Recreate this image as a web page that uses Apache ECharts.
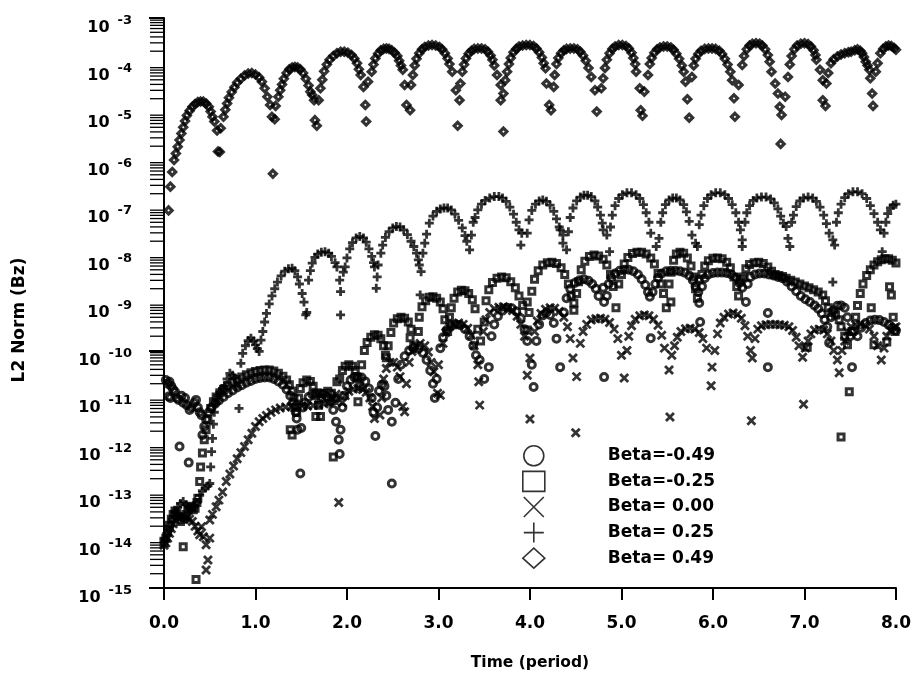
<!DOCTYPE html>
<html><head><meta charset="utf-8">
<script src="https://cdn.jsdelivr.net/npm/echarts@6/dist/echarts.min.js"></script>
<style>html,body{margin:0;padding:0;background:#fff}#c{width:914px;height:677px}</style>
</head><body><div id="c"></div>
<script>
// x ticks (period) and y decades (exponents of 10)
const xTickValues = [0, 1, 2, 3, 4, 5, 6, 7, 8];
const yExponents = [-15, -14, -13, -12, -11, -10, -9, -8, -7, -6, -5, -4, -3];
const minorMultipliers = [2, 3, 4, 5, 6, 7, 8, 9];
const legendNames = ['Beta=-0.49', 'Beta=-0.25', 'Beta= 0.00', 'Beta= 0.25', 'Beta= 0.49'];

// each point: [time (period), log10 of L2 norm]
const circleData = [
[0.02,-10.62],[0.04,-10.7],[0.05,-10.97],[0.06,-10.66],[0.07,-11.0],[0.08,-10.75],[0.10,-10.82],[0.12,-10.87],[0.14,-11.0],[0.16,-11.04],[0.17,-12.02],[0.19,-10.95],[0.21,-11.1],[0.23,-11.0],[0.25,-11.15],[0.27,-12.36],[0.28,-11.25],[0.30,-11.2],[0.33,-11.1],[0.35,-11.04],[0.37,-11.2],[0.39,-11.3],[0.41,-11.36],[0.42,-11.78],[0.44,-11.6],[0.46,-11.45],[0.49,-11.3],[0.52,-11.2],
[0.56,-11.12],[0.60,-11.05],[0.65,-10.98],[0.70,-10.9],[0.75,-10.84],[0.80,-10.78],[0.85,-10.73],[0.90,-10.68],[0.95,-10.64],[1.00,-10.6],[1.05,-10.58],[1.10,-10.57],[1.15,-10.57],[1.20,-10.6],[1.25,-10.65],[1.30,-10.72],[1.34,-10.82],[1.38,-10.95],[1.41,-11.1],[1.44,-11.3],[1.45,-11.43],[1.46,-11.67],[1.49,-12.59],[1.50,-11.63],[1.52,-11.2],
[1.54,-11.1],[1.58,-10.98],[1.62,-10.92],[1.66,-10.9],[1.70,-10.9],[1.74,-10.92],[1.78,-10.98],[1.82,-11.08],[1.85,-11.25],[1.88,-11.5],[1.91,-11.88],[1.92,-12.18],[1.93,-11.67],[1.95,-11.2],
[1.97,-10.95],[2.00,-10.75],[2.04,-10.62],[2.08,-10.56],[2.12,-10.55],[2.16,-10.57],[2.20,-10.65],[2.24,-10.8],[2.27,-11.0],[2.29,-11.3],[2.31,-11.8],[2.33,-11.2],
[2.35,-10.85],[2.38,-10.72],[2.41,-10.75],[2.43,-10.95],[2.45,-11.25],[2.49,-11.5],[2.49,-12.8],[2.53,-11.1],[2.56,-10.6],[2.59,-10.3],[2.63,-10.12],[2.68,-10.0],[2.73,-9.95],[2.78,-9.97],[2.83,-10.05],[2.87,-10.2],[2.91,-10.42],[2.94,-10.7],[2.96,-11.0],[2.98,-10.6],
[3.02,-9.95],[3.05,-9.72],[3.09,-9.57],[3.14,-9.48],[3.19,-9.45],[3.24,-9.47],[3.29,-9.55],[3.34,-9.7],[3.38,-9.9],[3.41,-10.1],[3.45,-10.2],[3.50,-10.6],[3.55,-10.35],
[3.58,-9.7],[3.61,-9.45],[3.65,-9.28],[3.70,-9.16],[3.75,-9.1],[3.80,-9.11],[3.85,-9.18],[3.90,-9.32],[3.94,-9.55],[3.97,-9.8],[4.02,-10.3],[4.04,-10.77],
[4.07,-9.8],[4.10,-9.45],[4.14,-9.26],[4.18,-9.2],[4.22,-9.25],[4.26,-9.42],[4.29,-9.75],[4.33,-10.35],
[4.37,-9.2],[4.40,-8.9],[4.44,-8.7],[4.49,-8.58],[4.54,-8.52],[4.59,-8.5],[4.64,-8.53],[4.68,-8.6],[4.72,-8.7],[4.75,-8.85],[4.80,-8.68],[4.81,-8.98],[4.81,-10.56],[4.84,-8.85],
[4.86,-8.6],[4.89,-8.47],[4.93,-8.38],[4.98,-8.32],[5.03,-8.3],[5.08,-8.3],[5.13,-8.33],[5.18,-8.4],[5.22,-8.5],[5.26,-8.62],[5.29,-8.77],[5.31,-8.87],[5.32,-9.74],[5.34,-8.77],
[5.37,-8.6],[5.40,-8.47],[5.44,-8.38],[5.49,-8.33],[5.54,-8.32],[5.59,-8.32],[5.64,-8.33],[5.69,-8.36],[5.74,-8.42],[5.78,-8.52],[5.81,-8.65],[5.84,-8.77],[5.85,-9.0],[5.86,-9.4],[5.88,-8.65],
[5.91,-8.48],[5.95,-8.4],[6.00,-8.37],[6.05,-8.36],[6.10,-8.36],[6.15,-8.37],[6.20,-8.4],[6.25,-8.47],[6.29,-8.58],[6.32,-8.68],[6.36,-8.98],[6.38,-8.6],
[6.41,-8.45],[6.46,-8.4],[6.51,-8.38],[6.56,-8.38],[6.60,-9.21],[6.60,-10.35],[6.61,-8.4],[6.66,-8.42],[6.71,-8.45],[6.76,-8.48],[6.81,-8.55],[6.86,-8.65],[6.91,-8.75],[6.96,-8.85],[7.01,-8.92],[7.06,-8.98],[7.11,-9.05],[7.15,-9.12],[7.19,-9.22],[7.22,-9.35],[7.25,-9.5],[7.27,-9.84],[7.29,-9.3],
[7.32,-9.15],[7.36,-9.06],[7.40,-9.05],[7.44,-9.1],[7.47,-9.3],[7.50,-9.7],[7.52,-10.35],[7.54,-9.6],
[7.58,-9.7],[7.62,-9.52],[7.67,-9.42],[7.72,-9.37],[7.77,-9.35],[7.82,-9.36],[7.87,-9.4],[7.92,-9.46],[7.96,-9.52],[8.00,-9.58]
];

const squareData = [
[0.00,-14.05],[0.02,-13.95],[0.04,-13.82],[0.06,-13.68],[0.08,-13.55],[0.10,-13.45],[0.12,-13.38],[0.14,-13.42],[0.16,-13.5],[0.18,-13.6],[0.21,-14.13],[0.22,-13.55],[0.24,-13.45],[0.26,-13.35],[0.28,-13.28],[0.30,-13.3],[0.32,-13.35],[0.34,-13.32],[0.35,-14.82],[0.36,-13.2],[0.37,-13.11],[0.39,-12.76],[0.40,-12.45],[0.42,-12.16],[0.44,-11.88],[0.46,-11.67],[0.48,-11.45],[0.51,-11.22],[0.54,-11.08],[0.57,-10.98],[0.61,-10.89],[0.65,-10.82],[0.70,-10.74],[0.75,-10.67],[0.80,-10.61],[0.85,-10.56],[0.90,-10.51],[0.95,-10.47],[1.00,-10.44],[1.05,-10.42],[1.10,-10.41],[1.15,-10.41],[1.20,-10.43],[1.25,-10.48],[1.30,-10.54],[1.34,-10.62],[1.37,-10.72],[1.38,-11.67],[1.40,-10.85],[1.40,-11.78],[1.42,-11.0],[1.43,-11.2],[1.45,-11.3],
[1.47,-11.0],[1.49,-10.8],[1.52,-10.68],[1.56,-10.62],[1.60,-10.65],[1.63,-10.75],[1.66,-10.95],[1.66,-11.39],[1.69,-11.15],[1.71,-11.39],
[1.72,-11.0],[1.75,-10.9],[1.79,-10.86],[1.83,-10.9],[1.85,-12.24],[1.86,-11.05],[1.88,-11.0],[1.89,-10.66],
[1.92,-10.6],[1.95,-10.42],[1.98,-10.33],[2.02,-10.3],[2.06,-10.33],[2.09,-10.42],[2.11,-10.58],[2.12,-11.08],[2.14,-10.75],
[2.16,-10.3],[2.19,-10.0],[2.22,-9.83],[2.26,-9.72],[2.30,-9.67],[2.34,-9.68],[2.37,-9.75],[2.40,-9.9],[2.42,-10.1],[2.43,-10.15],[2.45,-9.9],
[2.48,-9.62],[2.51,-9.42],[2.55,-9.33],[2.59,-9.3],[2.63,-9.32],[2.67,-9.4],[2.70,-9.55],[2.69,-9.73],[2.73,-9.9],[2.78,-9.6],
[2.79,-9.3],[2.82,-9.08],[2.86,-8.95],[2.90,-8.88],[2.94,-8.87],[2.98,-8.9],[3.02,-8.98],[3.05,-9.12],[3.07,-9.35],[3.10,-9.6],[3.12,-9.3],
[3.14,-9.1],[3.17,-8.9],[3.21,-8.77],[3.25,-8.73],[3.29,-8.74],[3.33,-8.8],[3.37,-8.93],[3.40,-9.12],[3.43,-9.55],[3.46,-9.8],[3.50,-9.4],
[3.52,-8.95],[3.55,-8.72],[3.59,-8.57],[3.64,-8.48],[3.69,-8.45],[3.74,-8.47],[3.79,-8.55],[3.84,-8.68],[3.88,-8.85],[3.92,-9.05],[3.97,-8.98],[3.97,-9.57],[3.99,-9.2],
[4.02,-8.75],[4.05,-8.5],[4.09,-8.32],[4.14,-8.2],[4.19,-8.15],[4.24,-8.14],[4.29,-8.17],[4.34,-8.26],[4.38,-8.4],[4.42,-8.6],[4.45,-8.85],[4.48,-9.0],[4.48,-9.15],[4.51,-8.8],
[4.53,-8.55],[4.56,-8.3],[4.60,-8.12],[4.65,-8.02],[4.70,-7.99],[4.75,-8.01],[4.80,-8.08],[4.84,-8.2],[4.88,-8.4],[4.91,-8.65],[4.94,-9.1],[4.97,-8.6],
[5.00,-8.4],[5.03,-8.18],[5.07,-8.04],[5.12,-7.96],[5.17,-7.93],[5.22,-7.93],[5.27,-7.97],[5.32,-8.05],[5.36,-8.18],[5.40,-8.38],[5.43,-8.6],[5.46,-8.8],[5.49,-9.1],[5.52,-8.6],[5.54,-8.98],
[5.54,-8.35],[5.57,-8.1],[5.60,-7.97],[5.64,-7.93],[5.68,-7.95],[5.72,-8.05],[5.76,-8.22],[5.79,-8.45],[5.81,-8.7],[5.83,-8.9],[5.85,-8.5],
[5.88,-8.4],[5.91,-8.22],[5.95,-8.11],[6.00,-8.06],[6.05,-8.05],[6.10,-8.07],[6.15,-8.14],[6.19,-8.26],[6.23,-8.45],[6.26,-8.65],[6.28,-8.85],[6.30,-8.5],
[6.33,-8.45],[6.36,-8.28],[6.40,-8.19],[6.45,-8.15],[6.50,-8.14],[6.55,-8.17],[6.60,-8.24],[6.64,-8.33],[6.68,-8.4],
[6.72,-8.42],[6.76,-8.44],[6.80,-8.48],[6.85,-8.52],[6.90,-8.56],[6.95,-8.6],[7.00,-8.64],[7.03,-9.93],[7.05,-8.68],[7.10,-8.72],[7.15,-8.77],[7.20,-8.83],
[7.23,-8.95],[7.26,-9.1],[7.30,-9.2],[7.34,-9.25],[7.38,-9.35],[7.40,-9.5],[7.40,-11.82],[7.44,-9.7],[7.47,-9.88],[7.49,-10.87],[7.52,-9.6],
[7.56,-9.3],[7.58,-9.05],[7.61,-8.8],[7.64,-8.6],[7.68,-8.42],[7.72,-8.3],[7.73,-9.1],[7.76,-8.2],[7.76,-9.88],[7.80,-8.13],[7.84,-8.09],[7.88,-8.07],[7.90,-9.82],[7.92,-8.07],[7.93,-8.66],[7.95,-8.83],[7.96,-8.1],[7.97,-9.3],[7.99,-9.6],[8.00,-8.16]
];

const crossData = [
[0.00,-14.1],[0.02,-14.05],[0.04,-13.95],[0.06,-13.85],[0.08,-13.75],[0.10,-13.65],[0.13,-13.57],[0.16,-13.52],[0.19,-13.5],[0.22,-13.5],[0.25,-13.52],[0.28,-13.55],[0.31,-13.6],[0.34,-13.7],[0.37,-13.8],[0.39,-13.88],[0.41,-13.71],[0.43,-13.92],[0.46,-14.09],[0.46,-14.62],[0.48,-14.41],[0.50,-13.95],
[0.50,-13.57],[0.53,-13.45],[0.57,-13.29],[0.60,-13.15],[0.64,-12.98],[0.68,-12.76],[0.72,-12.6],[0.76,-12.43],[0.80,-12.28],[0.84,-12.15],[0.88,-12.02],[0.92,-11.88],[0.96,-11.74],[1.00,-11.6],[1.04,-11.5],[1.08,-11.43],[1.12,-11.37],[1.17,-11.3],[1.22,-11.25],[1.27,-11.21],[1.33,-11.19],[1.39,-11.18],[1.45,-11.18],[1.51,-11.17],[1.57,-11.17],[1.63,-11.16],[1.69,-11.14],[1.75,-11.12],[1.80,-11.1],[1.84,-11.0],[1.88,-10.92],[1.91,-13.2],
[1.95,-11.1],[1.98,-10.95],[2.02,-10.86],[2.07,-10.81],[2.12,-10.8],[2.17,-10.82],[2.21,-10.88],[2.25,-11.0],[2.28,-11.18],[2.30,-11.43],[2.36,-11.36],[2.38,-11.0],
[2.40,-10.6],[2.43,-10.38],[2.47,-10.25],[2.51,-10.25],[2.55,-10.35],[2.58,-10.55],[2.61,-11.18],[2.63,-11.29],[2.65,-10.7],
[2.68,-10.25],[2.71,-10.02],[2.75,-9.9],[2.80,-9.85],[2.85,-9.9],[2.89,-10.03],[2.92,-10.25],[2.95,-10.45],[2.99,-10.9],[3.02,-10.94],[3.00,-10.3],
[3.05,-9.85],[3.08,-9.62],[3.12,-9.5],[3.17,-9.44],[3.22,-9.42],[3.27,-9.45],[3.32,-9.53],[3.36,-9.68],[3.39,-9.9],[3.43,-10.3],[3.44,-10.66],[3.45,-11.15],
[3.49,-9.6],[3.52,-9.35],[3.56,-9.2],[3.61,-9.12],[3.66,-9.09],[3.71,-9.08],[3.76,-9.1],[3.81,-9.16],[3.86,-9.28],[3.90,-9.45],[3.94,-9.7],[3.97,-10.52],[4.00,-10.16],[4.00,-11.44],
[4.05,-9.6],[4.08,-9.38],[4.12,-9.22],[4.17,-9.13],[4.22,-9.1],[4.27,-9.11],[4.32,-9.18],[4.37,-9.3],[4.41,-9.5],[4.44,-9.75],[4.47,-10.16],[4.50,-11.73],[4.51,-10.55],
[4.55,-9.85],[4.58,-9.6],[4.62,-9.45],[4.67,-9.36],[4.72,-9.33],[4.77,-9.32],[4.82,-9.34],[4.87,-9.41],[4.92,-9.55],[4.96,-9.75],[5.00,-10.1],[5.03,-10.58],[5.06,-10.0],
[5.08,-9.7],[5.11,-9.48],[5.15,-9.34],[5.20,-9.27],[5.25,-9.25],[5.30,-9.27],[5.35,-9.34],[5.40,-9.47],[5.44,-9.68],[5.47,-9.95],[5.52,-10.41],[5.53,-11.4],[5.55,-10.1],
[5.58,-9.9],[5.61,-9.72],[5.65,-9.6],[5.70,-9.54],[5.75,-9.53],[5.80,-9.55],[5.85,-9.62],[5.89,-9.75],[5.93,-9.95],[5.98,-10.74],[5.99,-10.35],[6.02,-10.0],
[6.05,-9.65],[6.08,-9.42],[6.12,-9.3],[6.17,-9.23],[6.22,-9.21],[6.27,-9.24],[6.31,-9.32],[6.35,-9.48],[6.38,-9.7],[6.41,-10.0],[6.42,-11.48],[6.43,-10.16],[6.46,-9.75],
[6.49,-9.55],[6.53,-9.48],[6.58,-9.46],[6.63,-9.45],[6.68,-9.45],[6.73,-9.46],[6.78,-9.47],[6.83,-9.5],[6.87,-9.58],[6.91,-9.72],[6.94,-9.9],[6.98,-10.14],[6.99,-11.13],[7.01,-9.95],
[7.04,-9.8],[7.07,-9.65],[7.11,-9.57],[7.16,-9.55],[7.21,-9.57],[7.25,-9.65],[7.29,-9.8],[7.32,-10.0],[7.36,-10.2],[7.38,-10.47],[7.41,-10.0],
[7.44,-9.8],[7.47,-9.6],[7.51,-9.5],[7.56,-9.46],[7.61,-9.45],[7.66,-9.47],[7.71,-9.55],[7.76,-9.7],[7.80,-9.9],[7.84,-10.2],[7.87,-9.95],
[7.90,-9.7],[7.94,-9.58],[7.98,-9.52],[8.00,-9.5]
];

const plusData = [
[0.00,-13.95],[0.03,-13.85],[0.06,-13.7],[0.09,-13.55],[0.12,-13.4],[0.15,-13.3],[0.18,-13.22],[0.21,-13.18],[0.24,-13.25],[0.27,-13.3],[0.30,-13.35],[0.33,-13.3],[0.36,-13.2],[0.39,-13.05],[0.42,-12.95],[0.45,-12.9],[0.48,-12.85],[0.50,-12.8],[0.51,-12.45],[0.52,-12.13],[0.53,-11.85],[0.54,-11.55],[0.55,-11.3],[0.57,-11.1],[0.59,-10.95],[0.61,-10.87],[0.64,-10.8],[0.66,-10.74],[0.69,-10.6],[0.72,-10.48],[0.75,-10.52],[0.77,-10.58],[0.79,-10.75],[0.82,-11.22],
[0.84,-10.27],[0.86,-10.06],[0.89,-9.9],[0.92,-9.79],[0.95,-9.74],[0.98,-9.8],[1.00,-9.88],[1.02,-9.96],[1.04,-10.02],[1.06,-9.78],[1.08,-9.6],[1.10,-9.4],[1.12,-9.22],[1.15,-9.02],[1.18,-8.85],[1.21,-8.7],[1.24,-8.56],[1.28,-8.43],[1.32,-8.33],[1.36,-8.28],[1.40,-8.27],[1.43,-8.32],[1.46,-8.45],[1.48,-8.6],[1.51,-8.8],[1.53,-8.98],[1.55,-9.25],[1.56,-9.2],[1.58,-8.52],
[1.60,-8.32],[1.62,-8.16],[1.65,-8.04],[1.68,-7.97],[1.72,-7.93],[1.76,-7.92],[1.80,-7.95],[1.83,-8.02],[1.87,-8.15],[1.89,-8.24],[1.92,-8.52],[1.93,-8.76],[1.93,-9.25],[1.96,-8.35],[1.98,-8.24],
[2.00,-8.05],[2.03,-7.86],[2.06,-7.73],[2.10,-7.63],[2.14,-7.6],[2.18,-7.63],[2.21,-7.72],[2.24,-7.86],[2.27,-8.02],[2.29,-8.15],[2.30,-8.24],[2.32,-8.69],[2.33,-8.45],[2.34,-8.2],
[2.37,-7.95],[2.39,-7.78],[2.42,-7.62],[2.46,-7.5],[2.50,-7.42],[2.54,-7.39],[2.58,-7.4],[2.62,-7.46],[2.66,-7.56],[2.70,-7.7],[2.73,-7.81],[2.76,-7.95],[2.78,-8.09],[2.79,-8.2],[2.81,-8.34],[2.80,-8.83],[2.83,-7.95],[2.85,-7.74],
[2.87,-7.55],[2.90,-7.32],[2.94,-7.17],[2.98,-7.07],[3.02,-7.02],[3.06,-7.0],[3.10,-7.0],[3.14,-7.04],[3.18,-7.13],[3.22,-7.26],[3.26,-7.42],[3.29,-7.58],[3.31,-7.7],[3.34,-7.88],[3.36,-7.57],[3.38,-7.3],
[3.40,-7.2],[3.43,-7.04],[3.47,-6.92],[3.51,-6.84],[3.56,-6.79],[3.61,-6.76],[3.66,-6.76],[3.70,-6.79],[3.74,-6.86],[3.78,-6.98],[3.82,-7.13],[3.85,-7.3],[3.88,-7.46],[3.91,-7.53],[3.90,-7.78],[3.97,-7.53],
[3.99,-7.25],[4.02,-7.05],[4.06,-6.92],[4.10,-6.85],[4.14,-6.83],[4.18,-6.86],[4.22,-6.94],[4.26,-7.07],[4.29,-7.23],[4.32,-7.4],[4.33,-7.46],[4.36,-7.57],[4.36,-7.74],[4.40,-7.88],[4.42,-7.5],
[4.44,-7.2],[4.47,-7.0],[4.51,-6.85],[4.55,-6.77],[4.59,-6.73],[4.63,-6.73],[4.67,-6.76],[4.71,-6.85],[4.74,-6.98],[4.77,-7.15],[4.79,-7.32],[4.80,-7.46],[4.84,-7.57],[4.87,-7.92],[4.88,-7.4],
[4.90,-7.15],[4.93,-6.95],[4.97,-6.8],[5.01,-6.72],[5.06,-6.68],[5.11,-6.68],[5.16,-6.72],[5.20,-6.8],[5.24,-6.93],[5.27,-7.1],[5.30,-7.3],[5.32,-7.53],[5.38,-7.81],[5.41,-7.64],[5.43,-7.3],
[5.45,-7.1],[5.48,-6.93],[5.52,-6.83],[5.56,-6.79],[5.60,-6.79],[5.64,-6.83],[5.68,-6.93],[5.71,-7.08],[5.74,-7.28],[5.77,-7.57],[5.81,-7.74],[5.83,-7.81],[5.85,-7.35],
[5.87,-7.15],[5.90,-6.95],[5.94,-6.8],[5.98,-6.72],[6.03,-6.68],[6.08,-6.68],[6.13,-6.72],[6.17,-6.8],[6.21,-6.93],[6.25,-7.1],[6.28,-7.3],[6.30,-7.46],[6.32,-7.67],[6.32,-7.81],[6.35,-7.3],
[6.37,-7.1],[6.40,-6.95],[6.44,-6.84],[6.48,-6.79],[6.53,-6.77],[6.58,-6.77],[6.63,-6.81],[6.67,-6.89],[6.71,-7.02],[6.74,-7.17],[6.77,-7.32],[6.80,-7.39],[6.82,-7.64],[6.84,-7.81],[6.86,-7.3],
[6.88,-7.15],[6.91,-6.97],[6.95,-6.85],[6.99,-6.79],[7.04,-6.77],[7.09,-6.79],[7.13,-6.86],[7.17,-6.98],[7.21,-7.15],[7.24,-7.33],[7.27,-7.53],[7.31,-7.67],[7.31,-8.56],[7.33,-7.78],[7.35,-7.3],
[7.37,-7.1],[7.40,-6.92],[7.44,-6.78],[7.48,-6.7],[7.53,-6.66],[7.58,-6.66],[7.63,-6.7],[7.68,-6.8],[7.72,-6.95],[7.76,-7.12],[7.80,-7.3],[7.83,-7.46],[7.87,-7.53],[7.85,-7.92],[7.89,-7.3],
[7.91,-7.12],[7.94,-7.0],[7.97,-6.94],[8.00,-6.92]
];

const diamondData = [
[0.05,-7.05],[0.07,-6.55],[0.09,-6.24],[0.11,-5.99],[0.13,-5.85],[0.15,-5.71],[0.17,-5.57],[0.19,-5.43],[0.21,-5.3],[0.23,-5.17],[0.25,-5.05],[0.28,-4.95],[0.31,-4.87],[0.34,-4.81],[0.37,-4.77],[0.40,-4.76],[0.43,-4.76],[0.46,-4.8],[0.49,-4.87],[0.51,-4.97],[0.53,-5.08],
[0.55,-5.18],[0.58,-5.37],[0.59,-5.81],[0.61,-5.82],[0.62,-5.32],[0.65,-5.08],
[0.67,-4.93],[0.69,-4.8],[0.71,-4.68],[0.74,-4.56],[0.77,-4.46],[0.80,-4.36],[0.84,-4.28],[0.88,-4.21],[0.92,-4.17],[0.96,-4.16],[1.00,-4.19],[1.04,-4.25],[1.07,-4.34],[1.10,-4.48],[1.13,-4.66],
[1.16,-4.83],[1.18,-5.08],[1.19,-6.28],[1.21,-5.13],[1.22,-4.85],[1.25,-4.66],
[1.27,-4.52],[1.29,-4.4],[1.31,-4.28],[1.34,-4.16],[1.37,-4.08],[1.40,-4.04],[1.43,-4.03],[1.46,-4.04],[1.49,-4.08],[1.52,-4.16],[1.55,-4.28],[1.58,-4.42],
[1.60,-4.55],[1.62,-4.62],[1.64,-4.73],[1.65,-5.15],[1.67,-5.27],[1.69,-4.73],[1.71,-4.48],
[1.73,-4.3],[1.75,-4.12],[1.78,-3.98],[1.81,-3.88],[1.85,-3.8],[1.89,-3.74],[1.93,-3.71],[1.97,-3.71],[2.01,-3.73],[2.05,-3.78],[2.08,-3.85],[2.11,-3.95],[2.13,-4.08],
[2.15,-4.2],[2.18,-4.45],[2.20,-4.83],[2.21,-5.18],[2.23,-4.34],[2.27,-4.13],
[2.29,-3.98],[2.31,-3.85],[2.34,-3.75],[2.37,-3.68],[2.40,-3.65],[2.43,-3.64],[2.46,-3.65],[2.49,-3.68],[2.52,-3.73],[2.55,-3.8],[2.57,-3.9],[2.59,-4.0],
[2.61,-4.09],[2.63,-4.41],[2.65,-4.83],[2.69,-4.94],[2.70,-4.41],[2.72,-4.2],
[2.74,-4.0],[2.76,-3.86],[2.79,-3.74],[2.82,-3.66],[2.85,-3.61],[2.89,-3.58],[2.93,-3.57],[2.97,-3.58],[3.01,-3.61],[3.04,-3.66],[3.07,-3.74],[3.10,-3.85],[3.12,-3.97],
[3.15,-4.13],[3.19,-4.52],[3.21,-5.27],[3.23,-4.73],[3.24,-4.38],[3.26,-4.13],
[3.28,-3.98],[3.30,-3.85],[3.33,-3.75],[3.36,-3.69],[3.39,-3.65],[3.43,-3.64],[3.47,-3.64],[3.51,-3.66],[3.54,-3.71],[3.57,-3.79],[3.59,-3.88],[3.61,-4.0],
[3.64,-4.2],[3.68,-4.41],[3.68,-4.73],[3.71,-4.59],[3.71,-5.39],[3.73,-4.31],[3.75,-4.13],
[3.77,-3.97],[3.79,-3.84],[3.82,-3.72],[3.85,-3.65],[3.88,-3.6],[3.92,-3.58],[3.96,-3.57],[4.00,-3.57],[4.04,-3.59],[4.07,-3.64],[4.10,-3.72],[4.13,-3.83],[4.15,-3.95],
[4.17,-4.06],[4.18,-4.38],[4.21,-4.83],[4.23,-4.94],[4.26,-4.45],[4.27,-4.2],
[4.29,-3.97],[4.31,-3.84],[4.34,-3.74],[4.37,-3.68],[4.40,-3.65],[4.44,-3.64],[4.48,-3.64],[4.52,-3.66],[4.55,-3.71],[4.58,-3.79],[4.61,-3.9],[4.64,-4.05],
[4.67,-4.24],[4.71,-4.52],[4.73,-4.97],[4.78,-4.48],[4.80,-4.27],
[4.82,-4.05],[4.84,-3.88],[4.87,-3.74],[4.90,-3.65],[4.93,-3.6],[4.97,-3.57],[5.01,-3.57],[5.05,-3.59],[5.08,-3.64],[5.11,-3.73],[5.13,-3.84],[5.15,-3.97],
[5.16,-4.13],[5.20,-4.48],[5.21,-4.94],[5.23,-5.06],[5.25,-4.55],[5.29,-4.2],
[5.31,-3.97],[5.33,-3.84],[5.36,-3.73],[5.39,-3.66],[5.42,-3.62],[5.46,-3.6],[5.50,-3.6],[5.54,-3.62],[5.57,-3.67],[5.60,-3.75],[5.63,-3.86],[5.66,-4.0],
[5.68,-4.13],[5.70,-4.34],[5.72,-4.71],[5.74,-5.1],[5.77,-4.24],
[5.79,-4.0],[5.81,-3.86],[5.84,-3.76],[5.87,-3.69],[5.91,-3.65],[5.95,-3.64],[5.99,-3.64],[6.03,-3.65],[6.07,-3.69],[6.10,-3.76],[6.13,-3.86],[6.16,-3.98],
[6.19,-4.13],[6.21,-4.31],[6.23,-4.69],[6.24,-5.08],[6.28,-4.41],[6.32,-3.99],
[6.34,-3.8],[6.37,-3.66],[6.40,-3.58],[6.43,-3.54],[6.47,-3.53],[6.51,-3.54],[6.54,-3.58],[6.57,-3.66],[6.60,-3.78],[6.62,-3.92],
[6.64,-4.13],[6.68,-4.38],[6.71,-4.59],[6.73,-4.87],[6.74,-5.65],[6.75,-5.04],[6.79,-4.66],[6.82,-4.24],
[6.84,-3.98],[6.86,-3.8],[6.89,-3.66],[6.92,-3.58],[6.96,-3.54],[7.00,-3.53],[7.04,-3.55],[7.07,-3.6],[7.10,-3.68],[7.12,-3.78],
[7.13,-3.88],[7.17,-4.09],[7.20,-4.31],[7.20,-4.73],[7.23,-4.85],[7.24,-4.38],[7.26,-4.16],
[7.29,-3.95],[7.32,-3.87],[7.36,-3.81],[7.40,-3.77],[7.44,-3.74],[7.48,-3.72],[7.51,-3.71],[7.55,-3.68],[7.58,-3.66],[7.61,-3.69],[7.63,-3.74],[7.65,-3.82],[7.67,-3.92],[7.69,-4.0],[7.71,-4.09],
[7.72,-4.27],[7.74,-4.59],[7.75,-4.85],[7.78,-4.13],[7.80,-3.95],
[7.83,-3.74],[7.86,-3.65],[7.89,-3.6],[7.92,-3.58],[7.95,-3.59],[7.98,-3.63],[8.00,-3.67]
];

const FONT = "'DejaVu Sans', sans-serif";
const majorTicks = yExponents.map(e => Math.pow(10, e));
const minorTicks = [];
yExponents.slice(0, -1).forEach(e => minorMultipliers.forEach(k => minorTicks.push(k * Math.pow(10, e))));

function toPoints(arr) { return arr.map(p => [p[0], Math.pow(10, p[1])]); }
const symbols = ['circle', 'rect', 'path://M0,0L10,10M10,0L0,10', 'path://M5,0L5,10M0,5L10,5', 'diamond'];
const sizes = [7, 6, 8, 9, 7];
const strokes = [3.0, 3.0, 2.8, 2.8, 3.2];
const datasets = [circleData, squareData, crossData, plusData, diamondData];

const series = datasets.map((d, i) => ({
  type: 'scatter', name: legendNames[i], data: toPoints(d),
  symbol: symbols[i], symbolSize: sizes[i],
  itemStyle: { color: 'rgba(0,0,0,0)', borderColor: '#000', borderWidth: strokes[i] },
  emphasis: { disabled: true }, silent: true, animation: false
}));

// minor ticks of the log axis, placed through the axis scale
series.push({
  type: 'custom', name: 'minorTicks', data: minorTicks.map(v => [0, v]),
  clip: false, silent: true, animation: false, z: 5,
  renderItem: function (params, api) {
    const p = api.coord([api.value(0), api.value(1)]);
    return { type: 'line', shape: { x1: p[0] - 14, y1: p[1], x2: p[0], y2: p[1] }, style: { stroke: '#000', lineWidth: 1.3 } };
  }
});

const chart = echarts.init(document.getElementById('c'), null, { renderer: 'canvas' });
chart.setOption({
  backgroundColor: '#fff',
  animation: false,
  grid: { left: 164, right: 12, top: 18, bottom: 89, containLabel: false },
  legend: {
    orient: 'vertical', left: 522, top: 445, padding: 0, itemWidth: 22, itemHeight: 20, itemGap: 4,
    data: legendNames, selectedMode: false,
    itemStyle: { color: 'rgba(0,0,0,0)', borderColor: '#000', borderWidth: 1.6 },
    textStyle: { fontFamily: FONT, fontWeight: 'bold', fontSize: 17, lineHeight: 20, color: '#000', padding: [0, 0, 0, 58] }
  },
  xAxis: {
    type: 'value', min: 0, max: 8, interval: 1,
    axisLine: { lineStyle: { color: '#000', width: 2 } },
    axisTick: { length: 12, lineStyle: { color: '#000', width: 2 } },
    splitLine: { show: false },
    axisLabel: { formatter: v => v.toFixed(1), color: '#000', fontFamily: FONT, fontWeight: 'bold', fontSize: 17, margin: 27 },
    name: 'Time (period)', nameLocation: 'middle', nameGap: 67,
    nameTextStyle: { color: '#000', fontFamily: FONT, fontWeight: 'bold', fontSize: 15.5 }
  },
  yAxis: {
    type: 'log', logBase: 10, min: 1e-15, max: 1e-3,
    axisLine: { show: true, lineStyle: { color: '#000', width: 2 } },
    axisTick: { show: true, length: 15, lineStyle: { color: '#000', width: 2 } },
    splitLine: { show: false },
    axisLabel: {
      customValues: majorTicks, margin: 32, color: '#000',
      formatter: v => '{b|10}{s|' + Math.round(Math.log10(v)) + '}',
      rich: {
        b: { fontFamily: FONT, fontWeight: 'bold', fontSize: 16, color: '#000', padding: [20, 0, 0, 0] },
        s: { fontFamily: FONT, fontWeight: 'bold', fontSize: 13, color: '#000', padding: [6, 0, 0, 8] }
      }
    }
  },
  graphic: [{
    type: 'text', x: 20, y: 320, rotation: Math.PI / 2,
    style: { text: 'L2 Norm (Bz)', fontFamily: FONT, fontWeight: 'bold', fontSize: 17, fill: '#000', align: 'center', verticalAlign: 'middle' }
  }],
  series: series
});
</script>
</body></html>
